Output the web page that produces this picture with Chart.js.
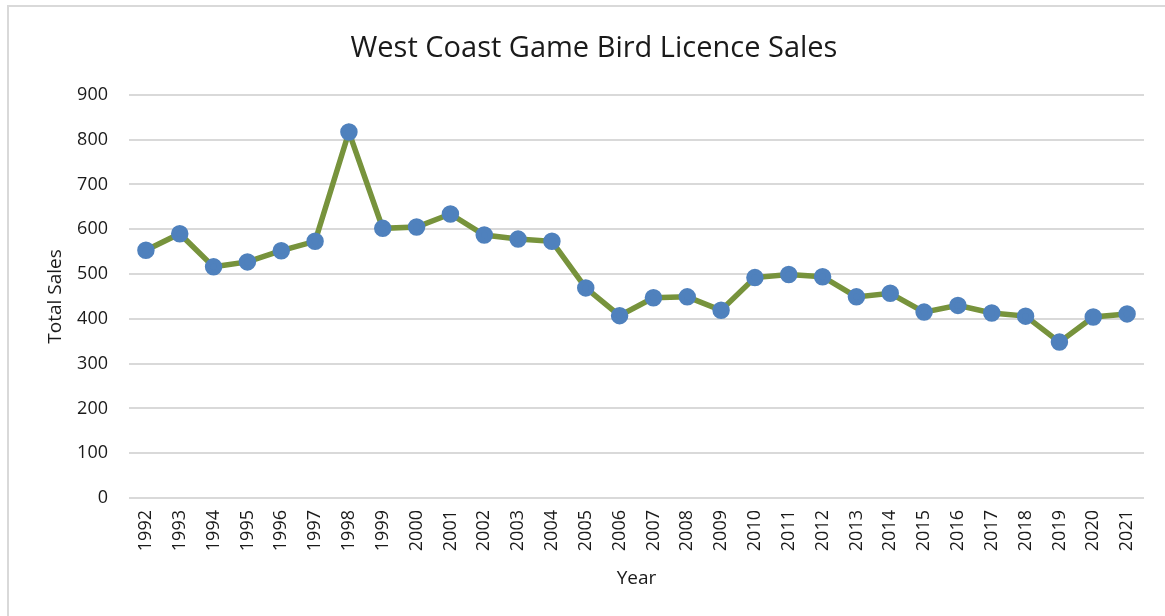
<!DOCTYPE html>
<html>
<head>
<meta charset="utf-8">
<script src="https://cdn.jsdelivr.net/npm/chart.js@4"></script>
<style>
  html, body { margin: 0; padding: 0; background: #fff; }
  #wrap { position: relative; width: 1165px; height: 616px; }
  #frame { position: absolute; left: 7px; top: 5px; width: 1170px; height: 620px; border: 2px solid #d9d9d9; box-sizing: border-box; }
  canvas { position: absolute; left: 0; top: 0; }
</style>
</head>
<body>
<div id="wrap">
  <div id="frame"></div>
  <canvas id="chart" width="1165" height="616"></canvas>
</div>
<script>
// Year labels along the bottom
var years = ['1992', '1993', '1994', '1995', '1996', '1997', '1998', '1999', '2000', '2001',
  '2002', '2003', '2004', '2005', '2006', '2007', '2008', '2009', '2010', '2011',
  '2012', '2013', '2014', '2015', '2016', '2017', '2018', '2019', '2020', '2021'];

// Total licence sales per year
var sales = [553, 590, 516, 527, 552, 573, 817, 602, 605, 634,
  587, 578, 573, 469, 407, 447, 449, 419, 492, 499,
  494, 449, 457, 415, 430, 413, 406, 348, 404, 411];

var yMin = 0;
var yMax = 900;
var yStep = 100;

var fontFamily = "'Open Sans', 'Noto Sans', sans-serif";
var textColor = '#1a1a1a';

var ctx = document.getElementById('chart').getContext('2d');

var chart = new Chart(ctx, {
  type: 'line',
  data: {
    labels: years,
    datasets: [{
      label: 'Total Sales',
      data: sales,
      borderColor: '#77933c',
      borderWidth: 5.5,
      pointBackgroundColor: '#4f81bd',
      pointBorderColor: '#4f81bd',
      pointRadius: 6,
      pointHoverRadius: 6,
      tension: 0,
      fill: false
    }]
  },
  options: {
    responsive: false,
    animation: false,
    layout: {
      padding: { top: 31, left: 44, right: 21, bottom: 26 }
    },
    plugins: {
      legend: { display: false },
      tooltip: { enabled: false },
      title: {
        display: true,
        text: 'West Coast Game Bird Licence Sales',
        color: textColor,
        font: { family: fontFamily, size: 29, weight: 'normal' },
        padding: { top: 0, bottom: 29 }
      }
    },
    scales: {
      x: {
        offset: true,
        grid: { display: false, drawTicks: false },
        border: { display: false },
        ticks: {
          color: textColor,
          font: { family: fontFamily, size: 18 },
          maxRotation: 90,
          minRotation: 90,
          autoSkip: false,
          padding: 12
        },
        title: {
          display: true,
          text: 'Year',
          color: textColor,
          font: { family: fontFamily, size: 19 },
          padding: { top: 4, bottom: 0 }
        }
      },
      y: {
        min: yMin,
        max: yMax,
        afterFit: function (scale) {
          scale.width = 85; // keep plot left edge where the original sits
        },
        grid: { color: '#d9d9d9', lineWidth: 2, drawTicks: false },
        border: { display: false },
        ticks: {
          stepSize: yStep,
          color: textColor,
          font: { family: fontFamily, size: 18 },
          padding: 21
        },
        title: {
          display: true,
          text: 'Total Sales',
          color: textColor,
          font: { family: fontFamily, size: 19 },
          padding: { top: 0, bottom: 0 }
        }
      }
    }
  }
});
</script>
</body>
</html>
